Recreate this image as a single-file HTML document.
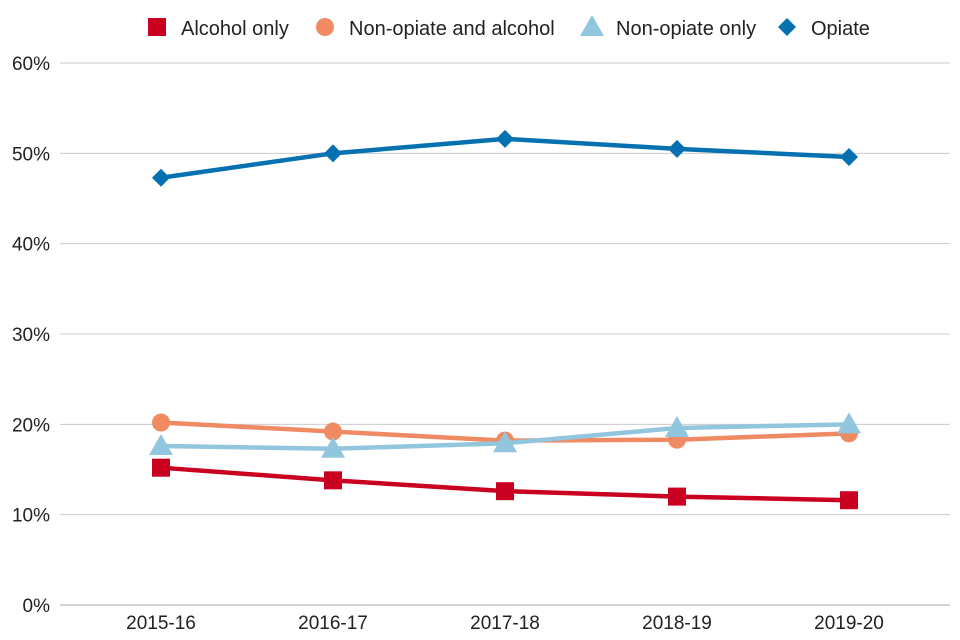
<!DOCTYPE html>
<html><head><meta charset="utf-8"><style>
body{margin:0;background:#fff;font-family:"Liberation Sans",sans-serif}
svg{display:block}
</style></head><body>
<svg id="chart" width="960" height="640"></svg>
<script>
const categories=["2015-16","2016-17","2017-18","2018-19","2019-20"];
const alcoholOnly=[15.2,13.8,12.6,12.0,11.6];
const nonOpiateAlcohol=[20.2,19.2,18.2,18.3,19.0];
const nonOpiateOnly=[17.6,17.3,17.9,19.6,20.0];
const opiate=[47.3,50.0,51.6,50.5,49.6];
const yTicks=[0,10,20,30,40,50,60];
const seriesNames=["Alcohol only","Non-opiate and alcohol","Non-opiate only","Opiate"];

const NS="http://www.w3.org/2000/svg";
const svg=document.getElementById('chart');
function mk(t,a,p){const e=document.createElementNS(NS,t);for(const k in a)e.setAttribute(k,a[k]);(p||svg).appendChild(e);return e;}
const y=v=>605-v*(542/60);
const x=i=>161+i*172;

yTicks.forEach(t=>{
  const g=mk('line',{x1:60,x2:950,y1:y(t),y2:y(t),stroke:t===0?'#aaa':'#ccc','stroke-width':1});
  
  
  const l=mk('text',{x:50,y:y(t)+7,'text-anchor':'end','font-size':19,fill:'#222'});
  l.textContent=t+'%';
  
  
});
categories.forEach((c,i)=>{
  const l=mk('text',{x:x(i),y:629,'text-anchor':'middle','font-size':19,fill:'#222'});
  l.textContent=c;
  
  
});

function marker(shape,cx,cy,col,g){
  let e;
  if(shape==='square')e=mk('rect',{x:cx-9,y:cy-9,width:18,height:18,fill:col},g);
  else if(shape==='circle')e=mk('circle',{cx:cx,cy:cy,r:9,fill:col},g);
  else if(shape==='triangle')e=mk('polygon',{points:`${cx},${cy-12} ${cx+12},${cy+9} ${cx-12},${cy+9}`,fill:col},g);
  else e=mk('polygon',{points:`${cx},${cy-9} ${cx+9},${cy} ${cx},${cy+9} ${cx-9},${cy}`,fill:col},g);
  return e;
}
const series=[
  {d:alcoholOnly,c:'#ca0020',s:'square',n:'alcohol-only'},
  {d:nonOpiateAlcohol,c:'#f4a582',s:'circle',n:'non-opiate-and-alcohol',lc:'#ef8a62'},
  {d:nonOpiateOnly,c:'#92c5de',s:'triangle',n:'non-opiate-only'},
  {d:opiate,c:'#0571b0',s:'diamond',n:'opiate'}
];
series.forEach(se=>{
  const g=mk('g',{});
  
  
  const p=mk('polyline',{points:se.d.map((v,i)=>x(i)+','+y(v)).join(' '),fill:'none',stroke:se.lc||se.c,'stroke-width':4.5},g);
  
  
  se.d.forEach((v,i)=>{
    const m=marker(se.s,x(i),y(v),se.lc||se.c,g);
    
    
  });
});
const lx=[157,325,592,787];
series.forEach((se,i)=>{
  const g=mk('g',{});
  
  
  marker(se.s,lx[i],27,se.lc||se.c,g);
  const t=mk('text',{x:lx[i]+24,y:35,'font-size':20,fill:'#222'},g);
  t.textContent=seriesNames[i];
});
</script>
</body></html>
